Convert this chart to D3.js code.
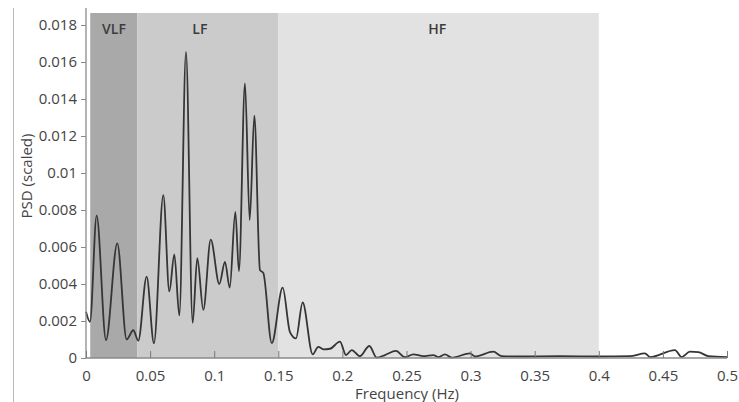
<!DOCTYPE html>
<html>
<head>
<meta charset="utf-8">
<script src="https://cdn.jsdelivr.net/npm/d3@7"></script>
<style>
  html, body { margin: 0; padding: 0; background: #fff; }
  svg { display: block; }
  text { font-family: "Open Sans", "Noto Sans", sans-serif; }
</style>
</head>
<body>
<svg id="chart" width="739" height="402"></svg>
<script>
// Heart-rate variability power spectrum (scaled PSD vs frequency)
const freq = [0, 0.0031, 0.0083, 0.0156, 0.0244, 0.0317, 0.0369, 0.0408, 0.0473, 0.0530,
  0.0603, 0.0650, 0.0689, 0.0728, 0.0780, 0.0832, 0.0868, 0.0915, 0.0973, 0.1040,
  0.1084, 0.1121, 0.1165, 0.1193, 0.1240, 0.1277, 0.1313, 0.1357, 0.1383, 0.1449,
  0.1534, 0.1591, 0.1638, 0.1690, 0.1768, 0.1812, 0.1851, 0.1903, 0.1981, 0.2028,
  0.2073, 0.2137, 0.2210, 0.2268, 0.2332, 0.2418, 0.2488, 0.2553, 0.2631, 0.2709,
  0.2748, 0.2800, 0.2853, 0.2995, 0.3034, 0.3177, 0.3243, 0.3385, 0.3697, 0.4009,
  0.4243, 0.4360, 0.4399, 0.4594, 0.4646, 0.4711, 0.4776, 0.4854, 0.5];
const psd = [0.0025, 0.00196, 0.0077, 0.00097, 0.0062, 0.0010, 0.0015, 0.00094, 0.0044, 0.0008,
  0.0088, 0.0036, 0.0056, 0.0023, 0.01655, 0.0019, 0.0054, 0.0026, 0.0064, 0.0040,
  0.0052, 0.0038, 0.0079, 0.0047, 0.01485, 0.00746, 0.0131, 0.00475, 0.0046, 0.0008,
  0.0038, 0.0014, 0.00106, 0.0030, 0.0002, 0.0006, 0.00047, 0.0005, 0.00088, 0.00016,
  0.00043, 0.0001, 0.00065, 0.00002, 0.00016, 0.00038, 0.00004, 0.0002, 0.0001, 0.00016,
  0.00005, 0.0002, 0.00002, 0.00025, 0.00008, 0.00034, 0.0001, 0.00008, 0.0001, 0.00008,
  0.0001, 0.00025, 0.00005, 0.00043, 0.00005, 0.00034, 0.00032, 0.0001, 0.00005];

// Frequency bands
const bandNames = ["VLF", "LF", "HF"];
const bandStart = [0.0033, 0.04, 0.15];
const bandEnd = [0.04, 0.15, 0.4];
const bandColors = ["#a9a9a9", "#cbcbcb", "#e2e2e2"];

// Axis ticks
const xTickValues = [0, 0.05, 0.1, 0.15, 0.2, 0.25, 0.3, 0.35, 0.4, 0.45, 0.5];
const xTickLabels = ["0", "0.05", "0.1", "0.15", "0.2", "0.25", "0.3", "0.35", "0.4", "0.45", "0.5"];
const yTickValues = [0, 0.002, 0.004, 0.006, 0.008, 0.01, 0.012, 0.014, 0.016, 0.018];
const yTickLabels = ["0", "0.002", "0.004", "0.006", "0.008", "0.01", "0.012", "0.014", "0.016", "0.018"];

const svg = d3.select("#chart");
const x = d3.scaleLinear().domain([0, 0.5]).range([86, 727]);
const y = d3.scaleLinear().domain([0, 0.018]).range([358, 25]);
const bandTop = y(0.018) - 12;

// thin frame line at the left edge
svg.append("line")
  .attr("x1", 13.5).attr("x2", 13.5).attr("y1", 8).attr("y2", 402)
  .attr("stroke", "#b8b8b8").attr("stroke-width", 1);

// shaded bands
svg.append("g").selectAll("rect")
  .data(bandNames)
  .join("rect")
  .attr("x", (d, i) => x(bandStart[i]))
  .attr("width", (d, i) => x(bandEnd[i]) - x(bandStart[i]))
  .attr("y", bandTop)
  .attr("height", y(0) - bandTop)
  .attr("fill", (d, i) => bandColors[i]);

// band labels
svg.append("g").selectAll("text")
  .data(bandNames)
  .join("text")
  .attr("x", (d, i) => i === 2 ? x(0.274) : i === 1 ? x(0.0888) : x(0.0218))
  .attr("y", bandTop + 21)
  .attr("text-anchor", "middle")
  .attr("font-size", 14)
  .attr("font-weight", 600)
  .attr("fill", "#3c3c3c")
  .text(d => d);

// spectrum curve
const line = d3.line()
  .x((d, i) => x(freq[i]))
  .y((d, i) => y(psd[i]))
  .curve(d3.curveMonotoneX);

svg.append("path")
  .datum(psd)
  .attr("d", line)
  .attr("fill", "none")
  .attr("stroke", "#353535")
  .attr("stroke-width", 1.8)
  .attr("stroke-linejoin", "round");

// y axis
const yAxis = d3.axisLeft(y)
  .tickValues(yTickValues)
  .tickFormat((d, i) => yTickLabels[i])
  .tickSize(5)
  .tickPadding(4);
const gy = svg.append("g").attr("transform", "translate(86,0)").call(yAxis);
gy.select(".domain").remove();
gy.append("line").attr("x1", 0).attr("x2", 0).attr("y1", 8).attr("y2", 358)
  .attr("stroke", "#8a8a8a").attr("stroke-width", 1.3);
gy.selectAll(".tick line").attr("stroke", "#8a8a8a");
gy.selectAll(".tick text").attr("font-size", 15).attr("fill", "#444")
  .attr("font-family", "'Open Sans', sans-serif");

// x axis, ticks pointing up into the plot
const xAxis = d3.axisBottom(x)
  .tickValues(xTickValues)
  .tickFormat((d, i) => xTickLabels[i])
  .tickSize(-7)
  .tickPadding(12);
const gx = svg.append("g").attr("transform", "translate(0,358)").call(xAxis);
gx.select(".domain").attr("stroke", "#8a8a8a").attr("stroke-width", 1.3)
  .attr("d", `M${x(0)},0H${x(0.5)}`);
gx.selectAll(".tick line").attr("stroke", "#7a7a7a");
gx.selectAll(".tick text").attr("font-size", 15).attr("fill", "#444")
  .attr("font-family", "'Open Sans', sans-serif");

// axis titles
svg.append("text")
  .attr("x", 407).attr("y", 399)
  .attr("text-anchor", "middle")
  .attr("font-size", 15).attr("fill", "#444")
  .text("Frequency (Hz)");

svg.append("text")
  .attr("transform", "translate(32,176) rotate(-90)")
  .attr("text-anchor", "middle")
  .attr("font-size", 15).attr("fill", "#444")
  .text("PSD (scaled)");
</script>
</body>
</html>
